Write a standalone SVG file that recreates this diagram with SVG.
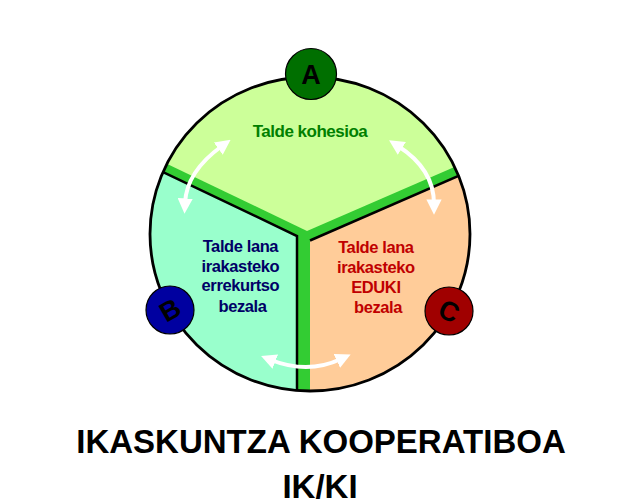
<svg xmlns="http://www.w3.org/2000/svg" width="632" height="504" viewBox="0 0 632 504">
  <style>
    .lbl { font-family: "Liberation Sans", Arial, sans-serif; font-weight: bold; text-anchor: middle; }
    .seg-line { fill: none; stroke: #000; stroke-width: 2.5; stroke-linejoin: miter; }
    .badge { stroke: #000; stroke-width: 1.2; }
    .letter { font-family: "Liberation Sans", Arial, sans-serif; font-weight: bold; font-size: 27px; text-anchor: middle; fill: #000; }
    .arrow { fill: none; stroke: #fff; stroke-width: 4; marker-start: url(#ah); marker-end: url(#ah); }
  </style>
  <defs>
    <clipPath id="disc">
      <ellipse cx="310" cy="234" rx="160" ry="157"/>
    </clipPath>
    <marker id="ah" viewBox="0 0 10 10" refX="3" refY="5" markerWidth="3.8" markerHeight="3.8" orient="auto-start-reverse">
      <path d="M0,0 L10,5 L0,10 z" fill="#fff"/>
    </marker>
  </defs>
  <rect width="632" height="504" fill="#fff"/>

  <g id="disc-base">
    <ellipse cx="310" cy="234" rx="160" ry="157" fill="#33cc33"/>
  </g>

  <g id="segA" clip-path="url(#disc)">
    <polygon points="140,151 307,231 480,156 480,60 140,60" fill="#ccff99"/>
  </g>
  <g id="segB" clip-path="url(#disc)">
    <polygon points="140,161 297,236 297,400 140,400" fill="#99ffcc"/>
    <polyline class="seg-line" points="140,161 297,236 297,400"/>
  </g>
  <g id="segC" clip-path="url(#disc)">
    <polygon points="310,240 480,166 480,400 310,400" fill="#ffcc99"/>
    <polyline class="seg-line" points="310,240.5 480,166.5"/>
  </g>

  <g id="outline">
    <ellipse cx="310" cy="234" rx="160" ry="157" fill="none" stroke="#000" stroke-width="2.8"/>
  </g>

  <g id="labelA">
    <text class="lbl" x="310" y="137" font-size="17" letter-spacing="-0.5" fill="#008000">Talde kohesioa</text>
  </g>
  <g id="labelB">
    <text class="lbl" font-size="16.5" letter-spacing="-0.4" fill="#000066">
      <tspan x="242.5" y="252">Talde lana</tspan>
      <tspan x="242.5" y="272">irakasteko</tspan>
      <tspan x="242.5" y="291">errekurtso</tspan>
      <tspan x="242.5" y="312">bezala</tspan>
    </text>
  </g>
  <g id="labelC">
    <text class="lbl" font-size="16.5" letter-spacing="-0.4" fill="#c00000">
      <tspan x="378" y="253">Talde lana</tspan>
      <tspan x="378" y="273">irakasteko</tspan>
      <tspan x="378" y="293">EDUKI</tspan>
      <tspan x="378" y="313">bezala</tspan>
    </text>
  </g>

  <g id="connectors">
    <path class="arrow" d="M222,146 Q186.5,171.5 185,203"/>
    <path class="arrow" d="M398,146 Q434,169 434,204"/>
    <path class="arrow" d="M271,360 Q308,374.5 341,359"/>
  </g>

  <g id="nodeA">
    <circle class="badge" cx="311" cy="74" r="25.5" fill="#006f00"/>
    <text class="letter" x="311" y="83.5">A</text>
  </g>
  <g id="nodeB">
    <circle class="badge" cx="170" cy="310" r="24" fill="#0000a0"/>
    <text class="letter" x="170" y="319.5" transform="rotate(-30 170 310)">B</text>
  </g>
  <g id="nodeC">
    <circle class="badge" cx="449" cy="311" r="24" fill="#a00000"/>
    <text class="letter" x="449" y="320.5" transform="rotate(25 449 311)">C</text>
  </g>

  <g id="title">
    <text class="lbl" x="321" y="453" font-size="33" fill="#000">IKASKUNTZA KOOPERATIBOA</text>
    <text class="lbl" x="320" y="498" font-size="33" fill="#000">IK/KI</text>
  </g>
</svg>
